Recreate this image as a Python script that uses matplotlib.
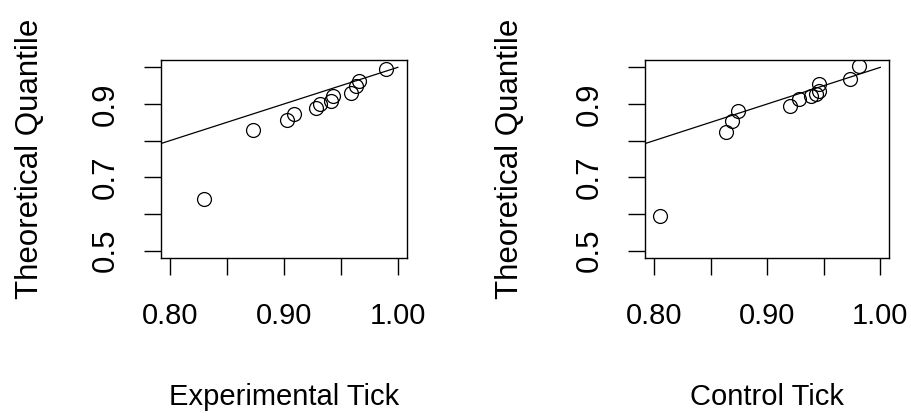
import matplotlib
matplotlib.use('Agg')
from matplotlib import pyplot as plt

# Experimental tick: observed vs theoretical quantiles
exp_obs = [0.830, 0.873, 0.903, 0.909, 0.928, 0.932, 0.941, 0.943, 0.959, 0.963, 0.966, 0.990]
exp_theo = [0.642, 0.830, 0.857, 0.874, 0.890, 0.899, 0.908, 0.922, 0.931, 0.949, 0.963, 0.995]

# Control tick
ctl_obs = [0.805, 0.8635, 0.869, 0.874, 0.920, 0.9285, 0.939, 0.943, 0.9455, 0.946, 0.973, 0.981]
ctl_theo = [0.594, 0.824, 0.855, 0.881, 0.894, 0.913, 0.922, 0.928, 0.936, 0.954, 0.968, 1.003]

x_ticks = [0.80, 0.85, 0.90, 0.95, 1.00]
x_labels = ['0.80', '', '0.90', '', '1.00']
y_ticks = [0.5, 0.6, 0.7, 0.8, 0.9, 1.0]
y_labels = ['0.5', '', '0.7', '', '0.9', '']

plt.rcParams['font.family'] = ['Liberation Sans', 'DejaVu Sans']
fs = 21
fs_y = 22.5  # vertical text looks a bit taller in the reference

fig = plt.figure(figsize=(9.12, 4.19), dpi=100)

panels = [
    (exp_obs, exp_theo, 'Experimental Tick', [0.1762, 0.3842, 0.2700, 0.4726], -0.531),
    (ctl_obs, ctl_theo, 'Control Tick', [0.7072, 0.3842, 0.2680, 0.4726], -0.553),
]

for obs, theo, name, rect, ylab_x in panels:
    ax = fig.add_axes(rect)
    ax.plot(obs, theo, 'o', mfc='none', mec='black', mew=0.9, ms=10, zorder=3)
    ax.plot([0, 1], [0, 1], color='black', lw=0.9)
    ax.set_xlim(0.792, 1.008)
    ax.set_ylim(0.48, 1.02)

    ax.set_xticks(x_ticks)
    ax.set_xticklabels(x_labels, fontsize=fs)
    ax.set_yticks(y_ticks)
    ax.set_yticklabels(y_labels, fontsize=fs_y, rotation=90, va='center')
    ax.tick_params(axis='x', length=12, width=1, pad=20, color='black')
    ax.tick_params(axis='y', length=12, width=1, pad=17, color='black')

    for s in ax.spines.values():
        s.set_linewidth(1.0)
        s.set_color('black')

    ax.set_xlabel(name, fontsize=fs, va='center')
    ax.xaxis.set_label_coords(0.5, -0.70)
    ax.set_ylabel('Theoretical Quantile', fontsize=fs_y, va='center')
    ax.yaxis.set_label_coords(ylab_x, 0.5)

fig.savefig('out.png', dpi=100)
